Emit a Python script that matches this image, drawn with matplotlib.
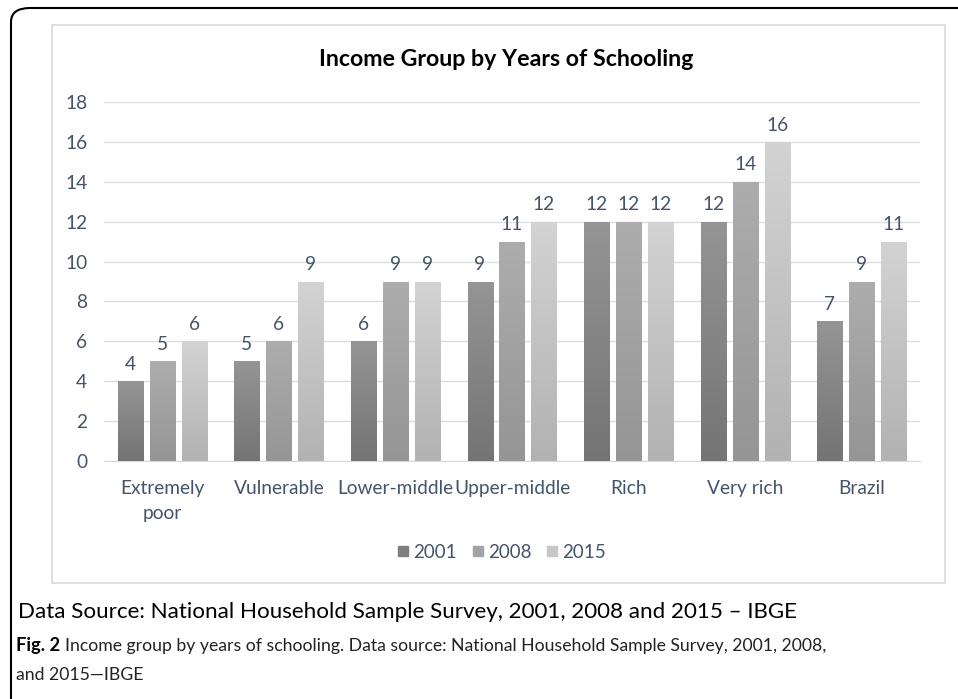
import numpy as np
import matplotlib
matplotlib.use("Agg")
import matplotlib.pyplot as plt
from matplotlib.patches import FancyBboxPatch, Rectangle
from matplotlib.lines import Line2D

categories = ["Extremely\npoor", "Vulnerable", "Lower-middle", "Upper-middle", "Rich", "Very rich", "Brazil"]
years = ["2001", "2008", "2015"]
v2001 = [4, 5, 6, 9, 12, 12, 7]
v2008 = [5, 6, 9, 11, 12, 14, 9]
v2015 = [6, 9, 9, 12, 12, 16, 11]
yticks = [0, 2, 4, 6, 8, 10, 12, 14, 16, 18]

series = [v2001, v2008, v2015]
grad = [("#959595", "#747474"), ("#adadad", "#959595"), ("#d3d3d3", "#b2b2b2")]
legend_cols = ["#7f7f7f", "#a3a3a3", "#c8c8c8"]
txtcol = "#44546a"
fs = 13.8

plt.rcParams['font.family'] = ['Lato', 'DejaVu Sans']

fig = plt.figure(figsize=(9.58, 6.99), dpi=100)
W, H = 958, 699

def fx(px):
    return px / W

def fy(py):
    return 1 - py / H

# outer rounded border
outer = FancyBboxPatch((fx(11), fy(1200)), fx(1200), fy(8) - fy(1200),
                       boxstyle="round,pad=0,rounding_size=0.02",
                       transform=fig.transFigure, fill=False, edgecolor="black",
                       linewidth=1.5, clip_on=False)
fig.add_artist(outer)
# inner chart box
inner = Rectangle((fx(52), fy(583)), fx(945) - fx(52), fy(25) - fy(583),
                  transform=fig.transFigure, fill=False, edgecolor="#d9d9d9", linewidth=1.2)
fig.add_artist(inner)

ax = fig.add_axes([fx(104), fy(461), fx(920) - fx(104), fy(102) - fy(461)])
x = np.arange(len(categories))
pitch = 0.274
width = 0.215
ax.set_ylim(0, 18)
ax.set_xlim(-0.5, len(categories) - 0.5)

for k, vals in enumerate(series):
    bars = ax.bar(x + (k - 1) * pitch, vals, width, facecolor="none", edgecolor="none", zorder=3)
    top, bot = grad[k]
    cmap = matplotlib.colors.LinearSegmentedColormap.from_list("g%d" % k, [bot, top])
    for b, v in zip(bars, vals):
        bx, by = b.get_x(), b.get_y()
        bw, bh = b.get_width(), b.get_height()
        g = np.linspace(0, 1, 256).reshape(-1, 1)
        im = ax.imshow(g, extent=(bx, bx + bw, by, by + bh), origin="lower",
                       cmap=cmap, aspect="auto", zorder=3, interpolation="bilinear")
        im.set_clip_path(b)
        ax.annotate(str(v), (bx + bw / 2, by + bh), xytext=(0, 6), textcoords="offset points",
                    ha="center", va="bottom", fontsize=fs, color=txtcol, zorder=4)

ax.set_ylim(0, 18)
ax.set_xlim(-0.5, len(categories) - 0.5)
ax.set_yticks(yticks)
ax.set_yticklabels([str(t) for t in yticks])
ax.set_xticks(x)
ax.set_xticklabels(categories, linespacing=1.55)
ax.tick_params(axis="both", length=0, labelsize=fs, labelcolor=txtcol)
ax.tick_params(axis="y", pad=12)
ax.tick_params(axis="x", pad=14)
ax.grid(axis="y", color="#dedede", linewidth=1.0, zorder=0)
ax.set_axisbelow(True)
for s in ["top", "right", "left"]:
    ax.spines[s].set_visible(False)
ax.spines["bottom"].set_color("#d9d9d9")

fig.text(fx(506), fy(59), "Income Group by Years of Schooling", ha="center", va="center",
         fontsize=16.7, fontweight="bold", color="black")

handles = [Line2D([], [], marker="s", linestyle="none", markersize=7.5,
                  markerfacecolor=c, markeredgecolor=c) for c in legend_cols]
fig.legend(handles, years, loc="center", bbox_to_anchor=(fx(501), fy(552)), ncol=3,
           frameon=False, fontsize=13.5, labelcolor=txtcol, handletextpad=0.15,
           columnspacing=0.7, handlelength=0.8)

fig.text(fx(18), fy(612), "Data Source: National Household Sample Survey, 2001, 2008 and 2015 \u2013 IBGE",
         ha="left", va="center", fontsize=16.1, color="black")

figlab = fig.text(fx(16), fy(646), "Fig. 2", ha="left", va="center", fontsize=13.2,
                  fontweight="bold", color="black")
r = fig.canvas.get_renderer()
bb = figlab.get_window_extent(renderer=r)
fig.text(fx(bb.x1 + 5), fy(646), "Income group by years of schooling. Data source: National Household Sample Survey, 2001, 2008,",
         ha="left", va="center", fontsize=12.7, color="#222222")
fig.text(fx(16), fy(675), "and 2015\u2014IBGE", ha="left", va="center", fontsize=12.7, color="#222222")

fig.savefig("out.png", dpi=100)
